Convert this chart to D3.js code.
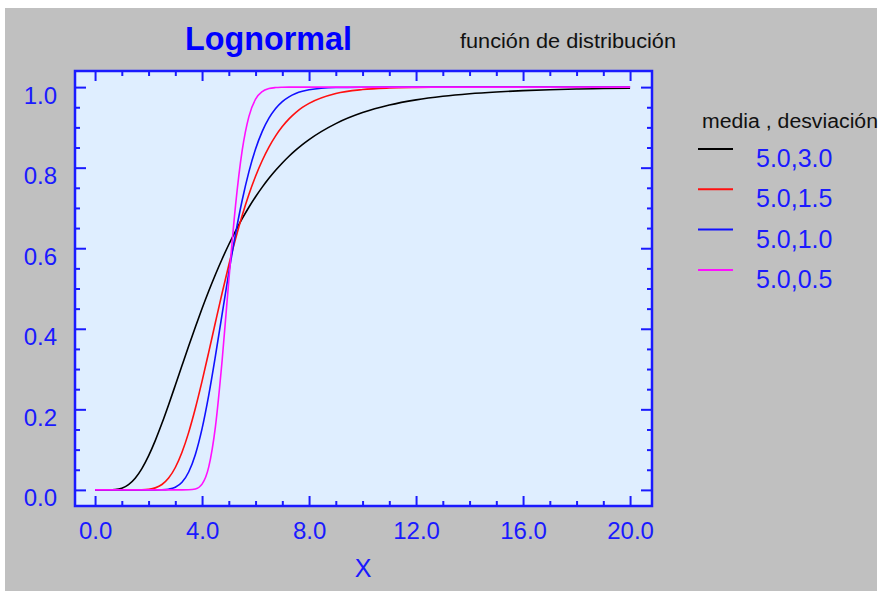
<!DOCTYPE html>
<html>
<head>
<meta charset="utf-8">
<script src="https://cdn.jsdelivr.net/npm/d3@7"></script>
<style>
  body { margin: 0; background: #fff; }
  text { font-family: "Liberation Sans", Arial, sans-serif; }
</style>
</head>
<body>
<svg id="chart" width="881" height="591"></svg>
<script>
// x positions where the curves were read
const xs = [0, 0.25, 0.5, 0.75, 1, 1.25, 1.5, 1.75, 2, 2.25, 2.5, 2.75, 3, 3.25, 3.5, 3.75,
  4, 4.25, 4.5, 4.75, 5, 5.25, 5.5, 5.75, 6, 6.25, 6.5, 6.75, 7, 7.25, 7.5, 7.75, 8,
  9, 10, 11, 12, 13, 14, 15, 16, 17, 18, 19, 20];

// distribution function values, media 5.0 with each desviación
const f_30 = [0, 0, 0.0001, 0.0008, 0.0043, 0.0131, 0.0291, 0.053, 0.0845, 0.1224, 0.1653, 0.2116,
  0.2598, 0.3087, 0.3572, 0.4046, 0.4502, 0.4937, 0.5348, 0.5733, 0.6092, 0.6425, 0.6733, 0.7017,
  0.7278, 0.7517, 0.7735, 0.7934, 0.8117, 0.8283, 0.8434, 0.8572, 0.8697,
  0.9094, 0.9367, 0.9554, 0.9683, 0.9773, 0.9836, 0.988, 0.9912, 0.9935, 0.9952, 0.9964, 0.9973];
const f_15 = [0, 0, 0, 0, 0, 0, 0, 0.0003, 0.0015, 0.005, 0.0134, 0.0294,
  0.0556, 0.0934, 0.1428, 0.2025, 0.2699, 0.3421, 0.4161, 0.4889, 0.5584, 0.6229, 0.6813, 0.7334,
  0.7788, 0.8178, 0.8509, 0.8788, 0.902, 0.9211, 0.9367, 0.9495, 0.9597,
  0.9842, 0.9939, 0.9977, 0.9991, 0.9997, 1, 1, 1, 1, 1, 1, 1];
const f_10 = [0, 0, 0, 0, 0, 0, 0, 0, 0, 0, 0.0003, 0.0018,
  0.0066, 0.0189, 0.0444, 0.088, 0.152, 0.2352, 0.3326, 0.4364, 0.5394, 0.6351, 0.7191, 0.7896,
  0.8462, 0.89, 0.9228, 0.9468, 0.964, 0.9759, 0.9841, 0.9896, 0.9933,
  0.9989, 0.9998, 1, 1, 1, 1, 1, 1, 1, 1, 1, 1];
const f_05 = [0, 0, 0, 0, 0, 0, 0, 0, 0, 0, 0, 0,
  0, 0, 0.0002, 0.0023, 0.0144, 0.0572, 0.1573, 0.3213, 0.52, 0.7052, 0.8427, 0.9267,
  0.9699, 0.9889, 0.9963, 0.9989, 0.9997, 1, 1, 1, 1,
  1, 1, 1, 1, 1, 1, 1, 1, 1, 1, 1, 1];

const seriesNames = ["5.0,3.0", "5.0,1.5", "5.0,1.0", "5.0,0.5"];
const seriesValues = [f_30, f_15, f_10, f_05];
const seriesColors = ["#000000", "#ff1010", "#1010ff", "#ff10ff"];

const xMajor = [0, 4, 8, 12, 16, 20];
const xMinor = d3.range(0, 21, 1).filter((v) => v % 4 !== 0);
const yMajor = [0, 0.2, 0.4, 0.6, 0.8, 1.0];
const yMinor = d3.range(0, 21).map((i) => i * 0.05).filter((v, i) => i % 4 !== 0);

const plot = { left: 75, right: 652, top: 71, bottom: 506 };
const axisBlue = "#1a1aff";

const svg = d3.select("#chart");

// panel backgrounds
svg.append("rect")
  .attr("x", 5).attr("y", 8)
  .attr("width", 872).attr("height", 583)
  .attr("fill", "#c0c0c0");

svg.append("rect")
  .attr("x", plot.left).attr("y", plot.top)
  .attr("width", plot.right - plot.left)
  .attr("height", plot.bottom - plot.top)
  .attr("fill", "#dfeeff");

// Scales
const xScale = d3.scaleLinear().domain([-0.75, 20.82]).range([plot.left, plot.right]);
const yScale = d3.scaleLinear().domain([-0.04, 1.04]).range([plot.bottom, plot.top]);

// curves
const line = d3.line()
  .x((d) => xScale(d[0]))
  .y((d) => yScale(d[1]))
  .curve(d3.curveMonotoneX);

svg.append("g")
  .selectAll("path")
  .data(seriesValues)
  .join("path")
  .attr("d", (vals) => line(xs.map((x, i) => [x, vals[i]])))
  .attr("fill", "none")
  .attr("stroke", (d, i) => seriesColors[i])
  .attr("stroke-width", 1.6);

// Axes (ticks inside the frame)
function styleAxis(g) {
  g.select(".domain").remove();
  g.selectAll("line").attr("stroke", axisBlue).attr("stroke-width", 2);
  g.selectAll("text")
    .attr("fill", axisBlue)
    .style("font-size", "24px")
    .style("font-family", "'Liberation Sans', Arial, sans-serif");
}

svg.append("g")
  .attr("transform", `translate(0, ${plot.bottom})`)
  .call(d3.axisBottom(xScale).tickValues(xMajor).tickSize(-10).tickPadding(16)
    .tickFormat(d3.format(".1f")))
  .call(styleAxis);
svg.append("g")
  .attr("transform", `translate(0, ${plot.bottom})`)
  .call(d3.axisBottom(xScale).tickValues(xMinor).tickSize(-5).tickFormat(""))
  .call(styleAxis);
svg.append("g")
  .attr("transform", `translate(0, ${plot.top})`)
  .call(d3.axisTop(xScale).tickValues(xMajor).tickSize(-10).tickFormat(""))
  .call(styleAxis);
svg.append("g")
  .attr("transform", `translate(0, ${plot.top})`)
  .call(d3.axisTop(xScale).tickValues(xMinor).tickSize(-5).tickFormat(""))
  .call(styleAxis);

const gy = svg.append("g")
  .attr("transform", `translate(${plot.left}, 0)`)
  .call(d3.axisLeft(yScale).tickValues(yMajor).tickSize(-11).tickPadding(18)
    .tickFormat(d3.format(".1f")))
  .call(styleAxis);
gy.selectAll("text").attr("dy", "0.71em").attr("y", -1);
svg.append("g")
  .attr("transform", `translate(${plot.left}, 0)`)
  .call(d3.axisLeft(yScale).tickValues(yMinor).tickSize(-5).tickFormat(""))
  .call(styleAxis);
svg.append("g")
  .attr("transform", `translate(${plot.right}, 0)`)
  .call(d3.axisRight(yScale).tickValues(yMajor).tickSize(-11).tickFormat(""))
  .call(styleAxis);
svg.append("g")
  .attr("transform", `translate(${plot.right}, 0)`)
  .call(d3.axisRight(yScale).tickValues(yMinor).tickSize(-5).tickFormat(""))
  .call(styleAxis);

// frame
svg.append("rect")
  .attr("x", plot.left).attr("y", plot.top)
  .attr("width", plot.right - plot.left)
  .attr("height", plot.bottom - plot.top)
  .attr("fill", "none")
  .attr("stroke", axisBlue)
  .attr("stroke-width", 2.5);

// titles
svg.append("text")
  .attr("x", 185).attr("y", 50)
  .attr("textLength", 167).attr("lengthAdjust", "spacingAndGlyphs")
  .style("font-size", "34px").style("font-weight", "bold")
  .attr("fill", "#0000ff")
  .text("Lognormal");

svg.append("text")
  .attr("x", 460).attr("y", 48)
  .attr("textLength", 216).attr("lengthAdjust", "spacingAndGlyphs")
  .style("font-size", "20px")
  .attr("fill", "#111")
  .text("función de distribución");

svg.append("text")
  .attr("x", 363).attr("y", 577)
  .attr("text-anchor", "middle")
  .style("font-size", "25px")
  .attr("fill", axisBlue)
  .text("X");

// legend
const legend = svg.append("g");
legend.append("text")
  .attr("x", 702).attr("y", 128)
  .attr("textLength", 176).attr("lengthAdjust", "spacingAndGlyphs")
  .style("font-size", "20px")
  .attr("fill", "#111")
  .text("media , desviación");

const items = legend.selectAll(".item")
  .data(seriesNames)
  .join("g")
  .attr("class", "item")
  .attr("transform", (d, i) => `translate(0, ${149 + i * 40.3})`);
items.append("line")
  .attr("x1", 698).attr("x2", 733)
  .attr("stroke", (d, i) => seriesColors[i])
  .attr("stroke-width", 2);
items.append("text")
  .attr("x", 756).attr("y", 18)
  .style("font-size", "25px")
  .attr("fill", axisBlue)
  .text((d) => d);
</script>
</body>
</html>
